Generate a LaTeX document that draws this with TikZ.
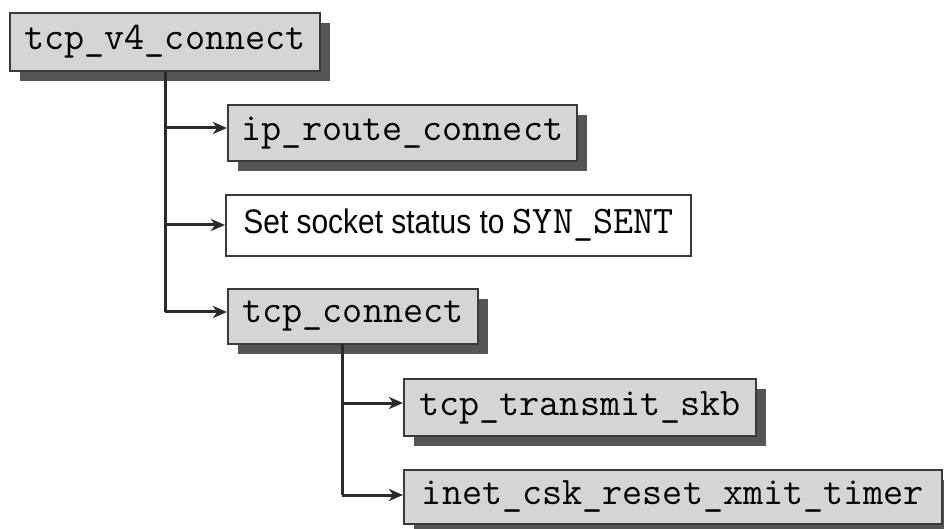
\documentclass[tikz,border=0pt]{standalone}
\usepackage{fontspec}
\setmainfont{Liberation Sans}
\newfontfamily\condsans[FakeStretch=0.88]{Liberation Sans}
\newfontfamily\codefont{Latin Modern Mono}
\usetikzlibrary{arrows.meta,shadows,calc}
\definecolor{boxfill}{HTML}{D5D5D5}
\definecolor{shadowgray}{HTML}{555555}
\definecolor{edgegray}{HTML}{3A3A3A}
\definecolor{linegray}{HTML}{2A2A2A}
\newcommand{\code}[1]{{\fontsize{39bp}{44bp}\selectfont\codefont #1}}
\tikzset{
  fnbox/.style={draw=edgegray, line width=2bp, fill=boxfill, inner sep=0pt,
    font=\fontsize{39bp}{44bp}\selectfont\codefont,
    drop shadow={shadow xshift=10bp, shadow yshift=-10bp, fill=shadowgray, opacity=1}},
  plainbox/.style={draw=edgegray, line width=2bp, fill=white, inner sep=0pt,
    font=\fontsize{34bp}{40bp}\selectfont\condsans},
  conn/.style={draw=linegray, line width=3bp},
  arr/.style={conn, -{Stealth[length=14bp,width=12bp,inset=4bp]}}
}
\begin{document}
\begin{tikzpicture}[x=1bp,y=-1bp]
\useasboundingbox (0,0) rectangle (944,529);
\node[fnbox, minimum width=310bp, minimum height=58bp] (A) at (165,42) {tcp\_v4\_connect};
\node[fnbox, minimum width=349bp, minimum height=56bp] (B) at (402.5,133) {ip\_route\_connect};
\node[plainbox, minimum width=465bp, minimum height=61bp] (C) at (458.5,225.5) {Set socket status to \code{SYN\_SENT}};
\node[fnbox, minimum width=250bp, minimum height=55bp] (D) at (353,316.5) {tcp\_connect};
\node[fnbox, minimum width=352bp, minimum height=57bp] (E) at (580,407.5) {tcp\_transmit\_skb};
\node[fnbox, minimum width=538bp, minimum height=54bp] (F) at (673,496.5) {inet\_csk\_reset\_xmit\_timer};
% trunk from tcp_v4_connect
\coordinate (tb) at (165,128);
\coordinate (tc) at (165,225);
\coordinate (td) at (165,312);
\draw[conn] (A.south) -- (td);
\draw[arr] (tb) -- (tb -| B.west);
\draw[arr] (tc) -- (tc -| C.west);
\draw[arr] (td) -- (td -| D.west);
% trunk from tcp_connect
\coordinate (d0) at (342,344);
\coordinate (te) at (342,403);
\coordinate (tf) at (342,495);
\draw[conn] (d0) -- (tf);
\draw[arr] (te) -- (te -| E.west);
\draw[arr] (tf) -- (tf -| F.west);
\end{tikzpicture}
\end{document}
